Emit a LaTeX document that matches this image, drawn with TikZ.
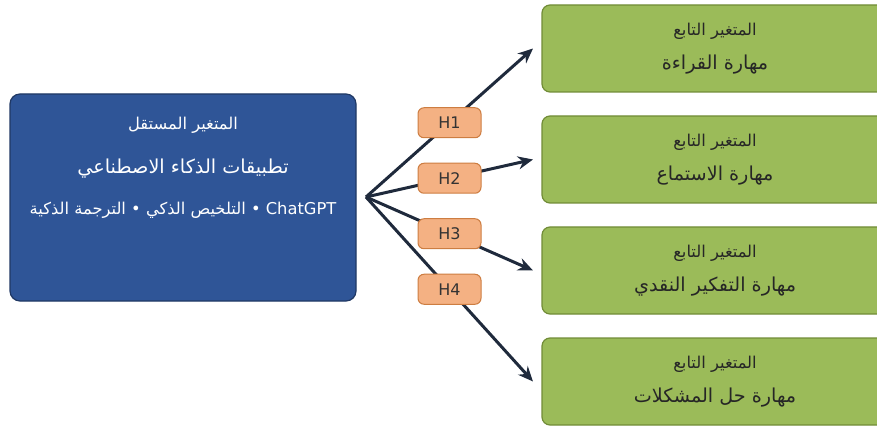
\documentclass[tikz,border=0pt]{standalone}
\usepackage{fontspec}
\setmainfont{DejaVu Sans}
\newfontfamily\arabicfont[Script=Arabic]{DejaVu Sans}
\TeXXeTstate=1
\usetikzlibrary{arrows.meta,positioning}
\definecolor{ivblue}{RGB}{47,85,151}
\definecolor{ivborder}{RGB}{32,56,100}
\definecolor{dvgreen}{RGB}{155,187,89}
\definecolor{dvborder}{RGB}{113,140,55}
\definecolor{hypfill}{RGB}{244,177,131}
\definecolor{hypborder}{RGB}{205,125,65}
\definecolor{arrowdark}{RGB}{31,42,60}
\newcommand{\artxt}[1]{{\arabicfont\beginR #1\endR}}

\begin{document}
\begin{tikzpicture}[
      x=1pt, y=-1pt,
      node distance=24pt,
      indep/.style={rectangle, draw=ivborder, fill=ivblue, line width=1.2pt, rounded corners=10pt, minimum width=346pt, minimum height=207pt},
      ivtext/.style={text=white, inner sep=0pt},
      dep/.style={rectangle, draw=dvborder, fill=dvgreen, line width=1.2pt, rounded corners=8pt, outer sep=0pt, align=center, text=black!85, minimum width=346pt, minimum height=87pt},
      hyp/.style={rectangle, draw=hypborder, fill=hypfill, line width=1pt, rounded corners=6pt, minimum width=63pt, minimum height=30pt, inner sep=0pt, text=black!80, font=\fontsize{16}{18}\selectfont},
      arrow/.style={-{Stealth[length=15pt,width=13pt]}, line width=3pt, arrowdark}
    ]
      \useasboundingbox (0,0) rectangle (877,427);
      \clip (0,0) rectangle (877,427);

      % independent variable
      \node[indep] (iv) at (183,197.5) {};
      \node[ivtext, font=\fontsize{16.3}{18}\selectfont] (ivhead) at (183,125) {\artxt{المتغير المستقل}};
      \node[ivtext, font=\fontsize{19.2}{22}\selectfont] (ivname) at (183,169) {\artxt{تطبيقات الذكاء الاصطناعي}};
      \node[ivtext, font=\fontsize{16.3}{18}\selectfont] (ivtools) at (183,210) {\artxt{\beginL ChatGPT\endL{} • التلخيص الذكي • الترجمة الذكية}};

      % dependent variables
      \node[dep] (dv1) at (715,48.5) {{\fontsize{16.3}{18}\selectfont\artxt{المتغير التابع}}\\[14pt]{\fontsize{19.2}{22}\selectfont\artxt{مهارة القراءة}}};
      \node[dep, below=of dv1] (dv2) {{\fontsize{16.3}{18}\selectfont\artxt{المتغير التابع}}\\[14pt]{\fontsize{19.2}{22}\selectfont\artxt{مهارة الاستماع}}};
      \node[dep, below=of dv2] (dv3) {{\fontsize{16.3}{18}\selectfont\artxt{المتغير التابع}}\\[14pt]{\fontsize{19.2}{22}\selectfont\artxt{مهارة التفكير النقدي}}};
      \node[dep, below=of dv3] (dv4) {{\fontsize{16.3}{18}\selectfont\artxt{المتغير التابع}}\\[14pt]{\fontsize{19.2}{22}\selectfont\artxt{مهارة حل المشكلات}}};

      % hypotheses
      \coordinate (fan) at (366,197);
      \draw[arrow] (fan) -- node[hyp] (h1) {H1} ([xshift=-9pt]dv1.west);
      \draw[arrow] (fan) -- node[hyp] (h2) {H2} ([xshift=-9pt]dv2.west);
      \draw[arrow] (fan) -- node[hyp] (h3) {H3} ([xshift=-9pt]dv3.west);
      \draw[arrow] (fan) -- node[hyp] (h4) {H4} ([xshift=-9pt]dv4.west);
    \end{tikzpicture}
\end{document}
